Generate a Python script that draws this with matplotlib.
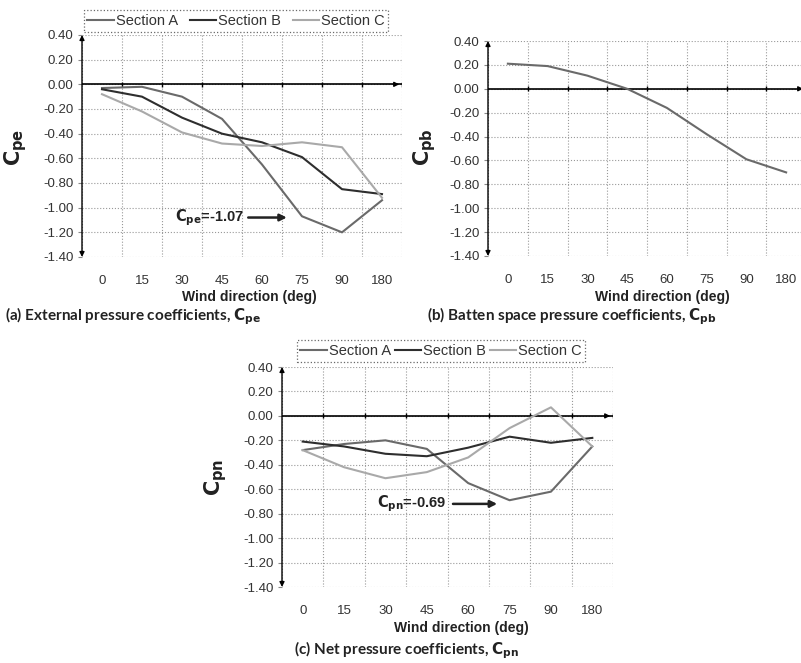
import numpy as np
import matplotlib
matplotlib.use('Agg')
from matplotlib import pyplot as plt

plt.rcParams['font.family'] = ['Liberation Sans', 'DejaVu Sans']
plt.rcParams['axes.unicode_minus'] = False
plt.rcParams['mathtext.default'] = 'regular'

# kierunki wiatru (kategorie)
kierunki = ['0', '15', '30', '45', '60', '75', '90', '180']

# (a) zewnetrzne wspolczynniki cisnienia
cpe_a = [-0.03, -0.02, -0.10, -0.28, -0.65, -1.07, -1.20, -0.94]
cpe_b = [-0.04, -0.10, -0.27, -0.40, -0.47, -0.59, -0.85, -0.89]
cpe_c = [-0.08, -0.22, -0.39, -0.48, -0.50, -0.47, -0.51, -0.92]

# (b) cisnienie w przestrzeni laty
cpb = [0.21, 0.19, 0.11, 0.00, -0.16, -0.38, -0.59, -0.70]

# (c) cisnienie netto
cpn_a = [-0.28, -0.23, -0.20, -0.27, -0.55, -0.69, -0.62, -0.25]
cpn_b = [-0.21, -0.25, -0.31, -0.33, -0.26, -0.17, -0.22, -0.18]
cpn_c = [-0.28, -0.42, -0.51, -0.46, -0.34, -0.10, 0.07, -0.25]

sekcje = ['Section A', 'Section B', 'Section C']
kolory = ['#6a6a6a', '#2e2e2e', '#a9a9a9']

W, H = 801, 663
fig = plt.figure(figsize=(W / 100, H / 100), dpi=100)


def px_ax(l, r, t, b):
    return fig.add_axes([l / W, 1 - b / H, (r - l) / W, (b - t) / H])


def fx(p):
    return p / W


def fy(p):
    return 1 - p / H


def styl(ax):
    x = np.arange(len(kierunki))
    ax.set_xlim(-0.5, len(kierunki) - 0.5)
    ax.set_ylim(-1.4, 0.4)
    yt = np.round(np.arange(-1.4, 0.41, 0.2), 2) + 0.0
    ax.set_yticks(yt)
    ax.set_yticklabels([f'{v:.2f}' for v in yt])
    ax.set_xticks(x)
    ax.set_xticklabels(kierunki)
    granice = np.arange(-0.5, len(kierunki), 1.0)
    ax.set_xticks(granice, minor=True)
    ax.tick_params(axis='x', which='both', length=0, pad=13, labelsize=9.5, colors='#333333')
    ax.tick_params(axis='y', length=3, width=0.8, pad=3, labelsize=9.5, colors='#333333')
    ax.tick_params(axis='y', color='#888888')
    ax.grid(True, axis='y', which='major', linestyle=':', color='#999999', linewidth=0.8)
    ax.grid(True, axis='x', which='minor', linestyle=':', color='#999999', linewidth=0.8)
    for s in ax.spines.values():
        s.set_visible(False)
    # os zero ze strzalka
    ax.axhline(0, color='black', linewidth=1.2, zorder=2)
    ax.annotate('', xy=(1.0, 0), xytext=(0.97, 0),
                xycoords=('axes fraction', 'data'),
                arrowprops=dict(arrowstyle='-|>', color='black', lw=1.0,
                                mutation_scale=7))
    ax.vlines(granice[1:], -0.02, 0.02, color='black', linewidth=1.0, zorder=2)
    # os y ze strzalkami
    ax.annotate('', xy=(0, 1.0), xytext=(0, 0.0), xycoords='axes fraction',
                arrowprops=dict(arrowstyle='<|-|>', color='black', lw=1.0,
                                mutation_scale=7, shrinkA=0, shrinkB=0))


def ylab(tekst, cx, cy):
    fig.text(fx(cx), fy(cy), tekst, rotation=90, ha='center', va='center',
             fontsize=15, fontweight='bold', color='#222222')


def legenda(ax, cx, cy, odstep=0.8):
    leg = ax.legend(loc='center', bbox_to_anchor=(fx(cx), fy(cy)),
                    bbox_transform=fig.transFigure, ncol=3, fontsize=10.5,
                    frameon=True, fancybox=False, handlelength=1.8,
                    handletextpad=0.15, columnspacing=odstep, borderpad=0.25,
                    borderaxespad=0)
    fr = leg.get_frame()
    fr.set_edgecolor('#444444')
    fr.set_linestyle(':')
    fr.set_linewidth(0.9)
    for t in leg.get_texts():
        t.set_color('#333333')


x = np.arange(len(kierunki))

# (a)
ax1 = px_ax(82, 402, 35, 257)
for y, lab, c in zip([cpe_a, cpe_b, cpe_c], sekcje, kolory):
    ax1.plot(x, y, color=c, linewidth=1.5, label=lab, zorder=3)
styl(ax1)
ylab(r'$\mathbf{C_{pe}}$', 16, 147)
legenda(ax1, 236, 21)
ax1.annotate(r'$\mathbf{C_{pe}}$=-1.07', xy=(4.62, -1.08), xytext=(1.83, -1.08),
             ha='left', va='center', fontsize=10.5, fontweight='bold', color='#222222',
             arrowprops=dict(arrowstyle='-|>', color='#222222', lw=1.8,
                             mutation_scale=10, shrinkA=1, shrinkB=0))
fig.text(fx(249), fy(297), 'Wind direction (deg)', ha='center', va='center',
         fontsize=10, fontweight='bold', color='#222222')
fig.text(fx(5), fy(316), r'(a) External pressure coefficients, $\mathbf{C_{pe}}$',
         ha='left', va='center', fontsize=11, fontweight='bold', color='#222222',
         family=['Lato', 'DejaVu Sans'])

# (b)
ax2 = px_ax(488, 806, 41, 256)
ax2.plot(x, cpb, color=kolory[0], linewidth=1.5, zorder=3)
styl(ax2)
ylab(r'$\mathbf{C_{pb}}$', 425, 147)
fig.text(fx(662), fy(297), 'Wind direction (deg)', ha='center', va='center',
         fontsize=10, fontweight='bold', color='#222222')
fig.text(fx(427), fy(316), r'(b) Batten space pressure coefficients, $\mathbf{C_{pb}}$',
         ha='left', va='center', fontsize=11, fontweight='bold', color='#222222',
         family=['Lato', 'DejaVu Sans'])

# (c)
ax3 = px_ax(282, 613, 367, 587)
for y, lab, c in zip([cpn_a, cpn_b, cpn_c], sekcje, kolory):
    ax3.plot(x, y, color=c, linewidth=1.5, label=lab, zorder=3)
styl(ax3)
ylab(r'$\mathbf{C_{pn}}$', 216, 477)
legenda(ax3, 441, 351, odstep=0.25)
ax3.annotate(r'$\mathbf{C_{pn}}$=-0.69', xy=(4.7, -0.72), xytext=(1.79, -0.72),
             ha='left', va='center', fontsize=10.5, fontweight='bold', color='#222222',
             arrowprops=dict(arrowstyle='-|>', color='#222222', lw=1.8,
                             mutation_scale=10, shrinkA=3, shrinkB=0))
fig.text(fx(461), fy(628), 'Wind direction (deg)', ha='center', va='center',
         fontsize=10, fontweight='bold', color='#222222')
fig.text(fx(407), fy(650), r'(c) Net pressure coefficients, $\mathbf{C_{pn}}$',
         ha='center', va='center', fontsize=11, fontweight='bold', color='#222222',
         family=['Lato', 'DejaVu Sans'])

fig.savefig('out.png', dpi=100)
